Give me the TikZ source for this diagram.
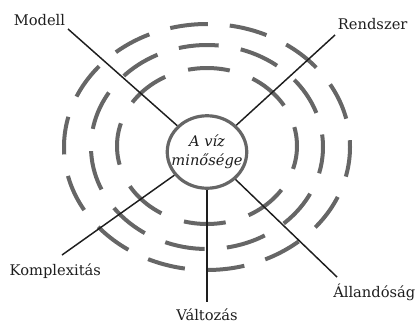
\documentclass[tikz,border=0pt]{standalone}
\usepackage{fontspec}
\setmainfont{DejaVu Serif}
\usetikzlibrary{shapes.geometric, positioning}
\definecolor{ringgray}{HTML}{666666}
\definecolor{inkblack}{HTML}{1E1E1E}

\begin{document}
\begin{tikzpicture}[x=0.75pt, y=-0.75pt]
                    \tikzstyle{core} = [ellipse, draw=ringgray, line width=2.4pt, inner xsep=-5.6pt, inner ysep=6.6pt, align=center, font=\fontsize{11}{14}\selectfont\itshape, text=inkblack]
                    \tikzstyle{ring} = [draw=ringgray, line width=3pt]
                    \tikzstyle{spoke} = [draw=inkblack, line width=1.1pt]
                    \tikzstyle{lbl} = [inner sep=1pt, font=\fontsize{11}{13}\selectfont, text=inkblack]

                    \useasboundingbox (0,0) rectangle (417,325);

                    % dashed rings round the core
                    \draw [ring, dash pattern=on 28.5pt off 16.4pt, dash phase=6pt] (207,147) ellipse [x radius=143, y radius=123];
                    \draw [ring, dash pattern=on 30pt off 16.8pt, dash phase=10pt] (207,147) ellipse [x radius=116, y radius=102];
                    \draw [ring, dash pattern=on 31.5pt off 18pt, dash phase=14pt] (207,146) ellipse [x radius=90, y radius=78];

                    \node (core) [core] at (207,152) {A víz\\minősége};

                    % spoke tips
                    \coordinate (tipM) at (68,29);
                    \coordinate (tipR) at (335,35);
                    \coordinate (tipK) at (62,255);
                    \coordinate (tipV) at (207,302);
                    \coordinate (tipA) at (337,277);

                    \node (modell) [lbl, above left=1pt and 1pt of tipM] {Modell};
                    \node (rendszer) [lbl, above right=3pt and 1pt of tipR] {Rendszer};
                    \node (komplex) [lbl, below=5pt of tipK, xshift=-5pt] {Komplexitás};
                    \node (valtozas) [lbl, below=4pt of tipV] {Változás};
                    \node (allando) [lbl, below right=4pt and -4pt of tipA] {Állandóság};

                    \draw [spoke] (core) -- (tipM);
                    \draw [spoke] (core) -- (tipR);
                    \draw [spoke] (core) -- (tipK);
                    \draw [spoke] (core) -- (tipV);
                    \draw [spoke] (core) -- (tipA);
                \end{tikzpicture}
\end{document}
